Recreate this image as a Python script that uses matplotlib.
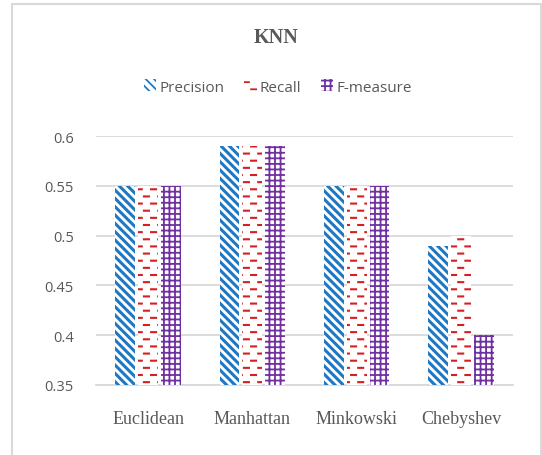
import warnings
import numpy as np
import matplotlib
matplotlib.use("Agg")
import matplotlib.pyplot as plt
import matplotlib.hatch as mhatch
from matplotlib.path import Path
from matplotlib.patches import Rectangle

warnings.filterwarnings("ignore")

# data
categories = ["Euclidean", "Manhattan", "Minkowski", "Chebyshev"]
precision = [0.55, 0.59, 0.55, 0.49]
recall = [0.55, 0.59, 0.55, 0.50]
f_measure = [0.55, 0.59, 0.55, 0.40]
series_names = ["Precision", "Recall", "F-measure"]
yticks = [0.35, 0.4, 0.45, 0.5, 0.55, 0.6]


# Excel-like "dashed horizontal" fill pattern as a custom hatch ('d')
class DashHatch(mhatch.HatchPatternBase):
    def __init__(self, hatch, density):
        n = hatch.count('d')
        self.cols = 7 * n
        self.rows = 14 * n
        self.num_vertices = self.cols * self.rows * 2

    def set_vertices_and_codes(self, vertices, codes):
        half = 0.025
        k = 0
        for r in range(self.rows):
            y = (r + 0.5) / self.rows
            shift = 0.25 if r % 2 == 0 else 0.75
            for c in range(self.cols):
                x = (c + shift) / self.cols
                vertices[k] = (x - half, y)
                vertices[k + 1] = (x + half, y)
                codes[k] = Path.MOVETO
                codes[k + 1] = Path.LINETO
                k += 2


mhatch._hatch_types.append(DashHatch)

gray = "#595959"

fig = plt.figure(figsize=(5.42, 4.56), dpi=100)
ax = fig.add_axes([96 / 542, 1 - 386 / 456, (513 - 96) / 542, (386 - 137) / 456])

x = np.arange(len(categories))
w = 0.19
off = 0.22
# colour, hatch, hatch linewidth
styles = [("#1f78c4", "\\" * 4, 2.2), ("#d42020", "d", 1.5), ("#7030a0", "+++", 1.3)]
bars = []
for i, vals in enumerate([precision, recall, f_measure]):
    col, hatch, hlw = styles[i]
    plt.rcParams['hatch.linewidth'] = hlw
    b = ax.bar(x + (i - 1) * off, vals, w, facecolor="white", edgecolor=col,
               hatch=hatch, linewidth=0, label=series_names[i], zorder=3)
    for p in b:
        if hasattr(p, "set_hatch_linewidth"):
            p.set_hatch_linewidth(hlw)
    bars.append(b)

ax.set_xlim(-0.5, 3.5)
ax.set_ylim(0.35, 0.6)
ax.set_yticks(yticks)
ax.set_yticklabels(["0.35", "0.4", "0.45", "0.5", "0.55", "0.6"],
                   fontfamily="Open Sans", fontsize=10.5, color=gray)
ax.set_xticks(x)
ax.set_xticklabels(categories, fontfamily="Liberation Serif", fontsize=13, color=gray)
ax.tick_params(axis="y", length=0, pad=16)
ax.tick_params(axis="x", length=0, pad=18)
ax.grid(axis="y", color="#d9d9d9", linewidth=1.3, zorder=0)
for s in ["top", "right", "left"]:
    ax.spines[s].set_visible(False)
ax.spines["bottom"].set_color("#d9d9d9")
ax.spines["bottom"].set_linewidth(1.3)

fig.text(276.5 / 542, 1 - 38 / 456, "KNN", ha="center", va="center",
         fontfamily="Liberation Serif", fontweight="bold", fontsize=14.5, color=gray)

fig.legend(handles=bars, labels=series_names, loc="center",
           bbox_to_anchor=(278 / 542, 1 - 88 / 456), ncol=3, frameon=False,
           prop={"family": "Open Sans", "size": 11}, labelcolor=gray,
           handlelength=0.8, handleheight=0.8, handletextpad=0.2,
           columnspacing=1.3)

# chart area border
fig.patches.append(Rectangle((12 / 542, -0.05), (541 - 12) / 542, 1.05 - 5 / 456,
                             transform=fig.transFigure, fill=False,
                             edgecolor="#d9d9d9", linewidth=1.5))

fig.savefig("out.png", dpi=100)
